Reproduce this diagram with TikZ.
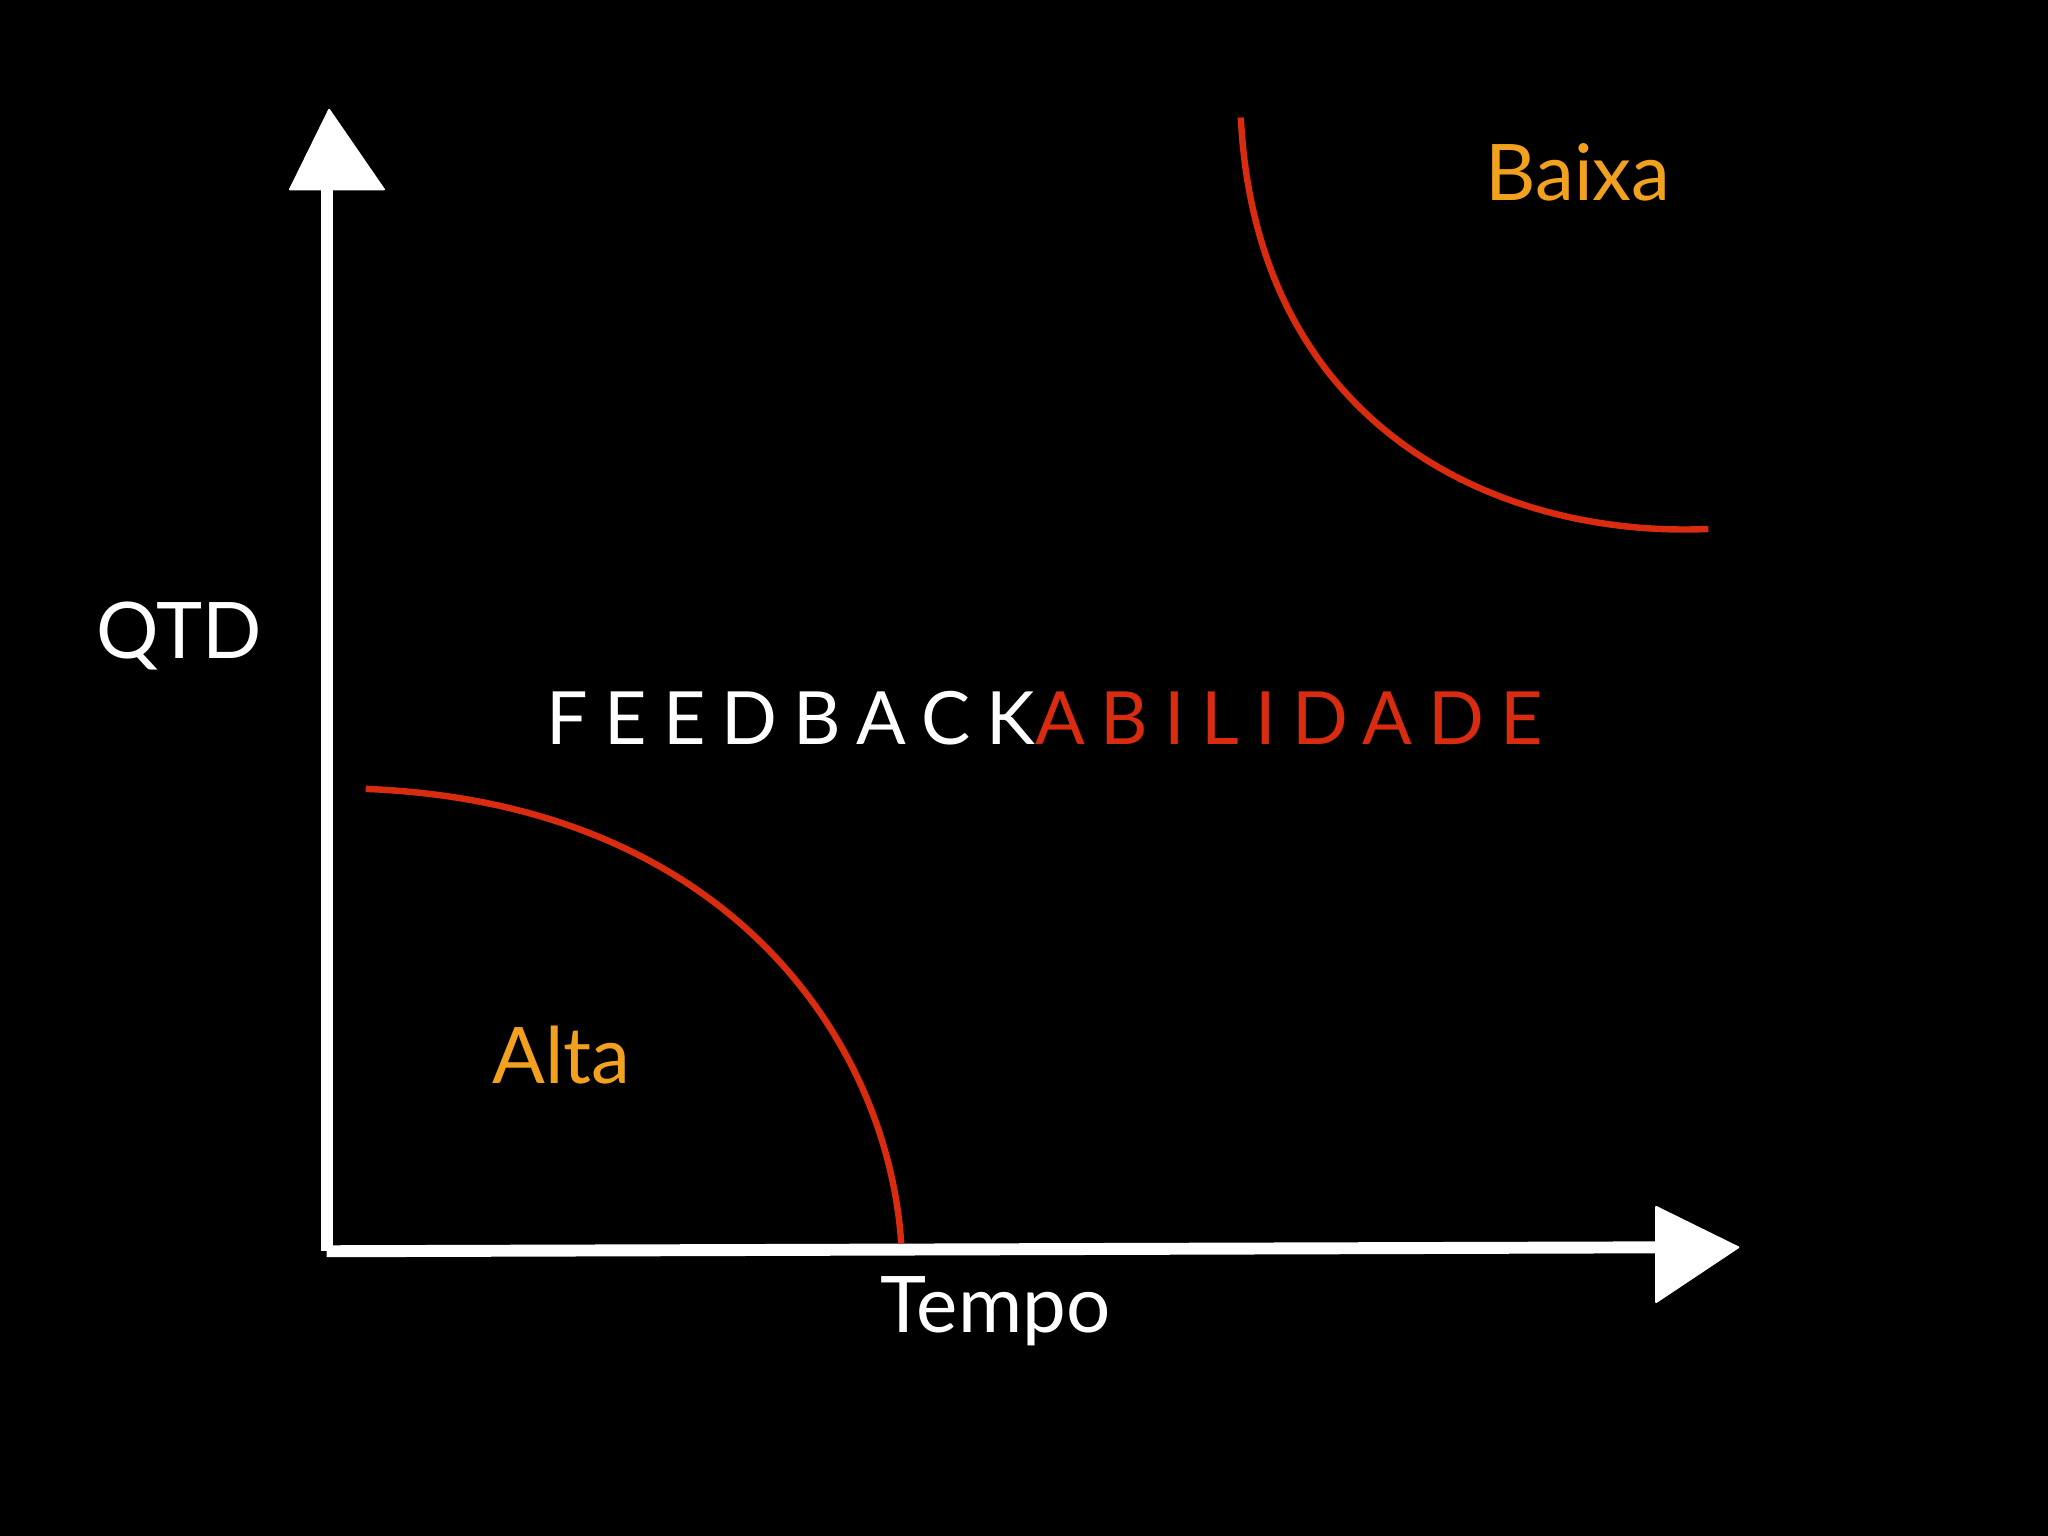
\documentclass[tikz,border=0pt]{standalone}
\usepackage{fontspec}
\setmainfont{Lato}
\definecolor{redc}{HTML}{D92B10}
\definecolor{orangec}{HTML}{F2A11E}
\begin{document}
\begin{tikzpicture}[x=0.01cm,y=-0.01cm,
  lbl/.style={font=\fontsize{17}{20}\selectfont,inner sep=0},
  axisline/.style={white,line width=2.6pt},
  curve/.style={redc,line width=1.4pt},
  head/.style={fill=white,draw=white,line join=round}]
\fill[black] (0,0) rectangle (1568,1176);
\useasboundingbox (0,0) rectangle (1568,1176);
\coordinate (o) at (250,958);
\coordinate (ytop) at (250,145);
\coordinate (xend) at (1268,955);
\draw[axisline] (o) -- (ytop);
\draw[axisline] (o) -- (xend);
\fill[head] (222,145) -- (252,84) -- (294,145) -- cycle;
\fill[head] (1268,924) -- (1331,955) -- (1268,997) -- cycle;
\node[lbl,white] (qtd) at (137,487) {QTD};
\node[lbl,white] (tempo) at (762,1004) {Tempo};
\node[lbl,orangec] (alta) at (430,808) {Alta};
\node[lbl,orangec] (baixa) at (1208,132) {Baixa};
\node[lbl,inner sep=0] (title) at (800,550) {\addfontfeature{LetterSpace=22}\fontsize{16}{20}\selectfont\color{white}FEEDBACK\color{redc}ABILIDADE};
\coordinate (c1s) at (280,604);
\coordinate (c1e) at (690,952);
\coordinate (c2s) at (950,90);
\coordinate (c2e) at (1308,405);
\draw[curve] (c1s) .. controls (560,615) and (680,800) .. (c1e);
\draw[curve] (c2s) .. controls (962,330) and (1150,412) .. (c2e);
\end{tikzpicture}
\end{document}
